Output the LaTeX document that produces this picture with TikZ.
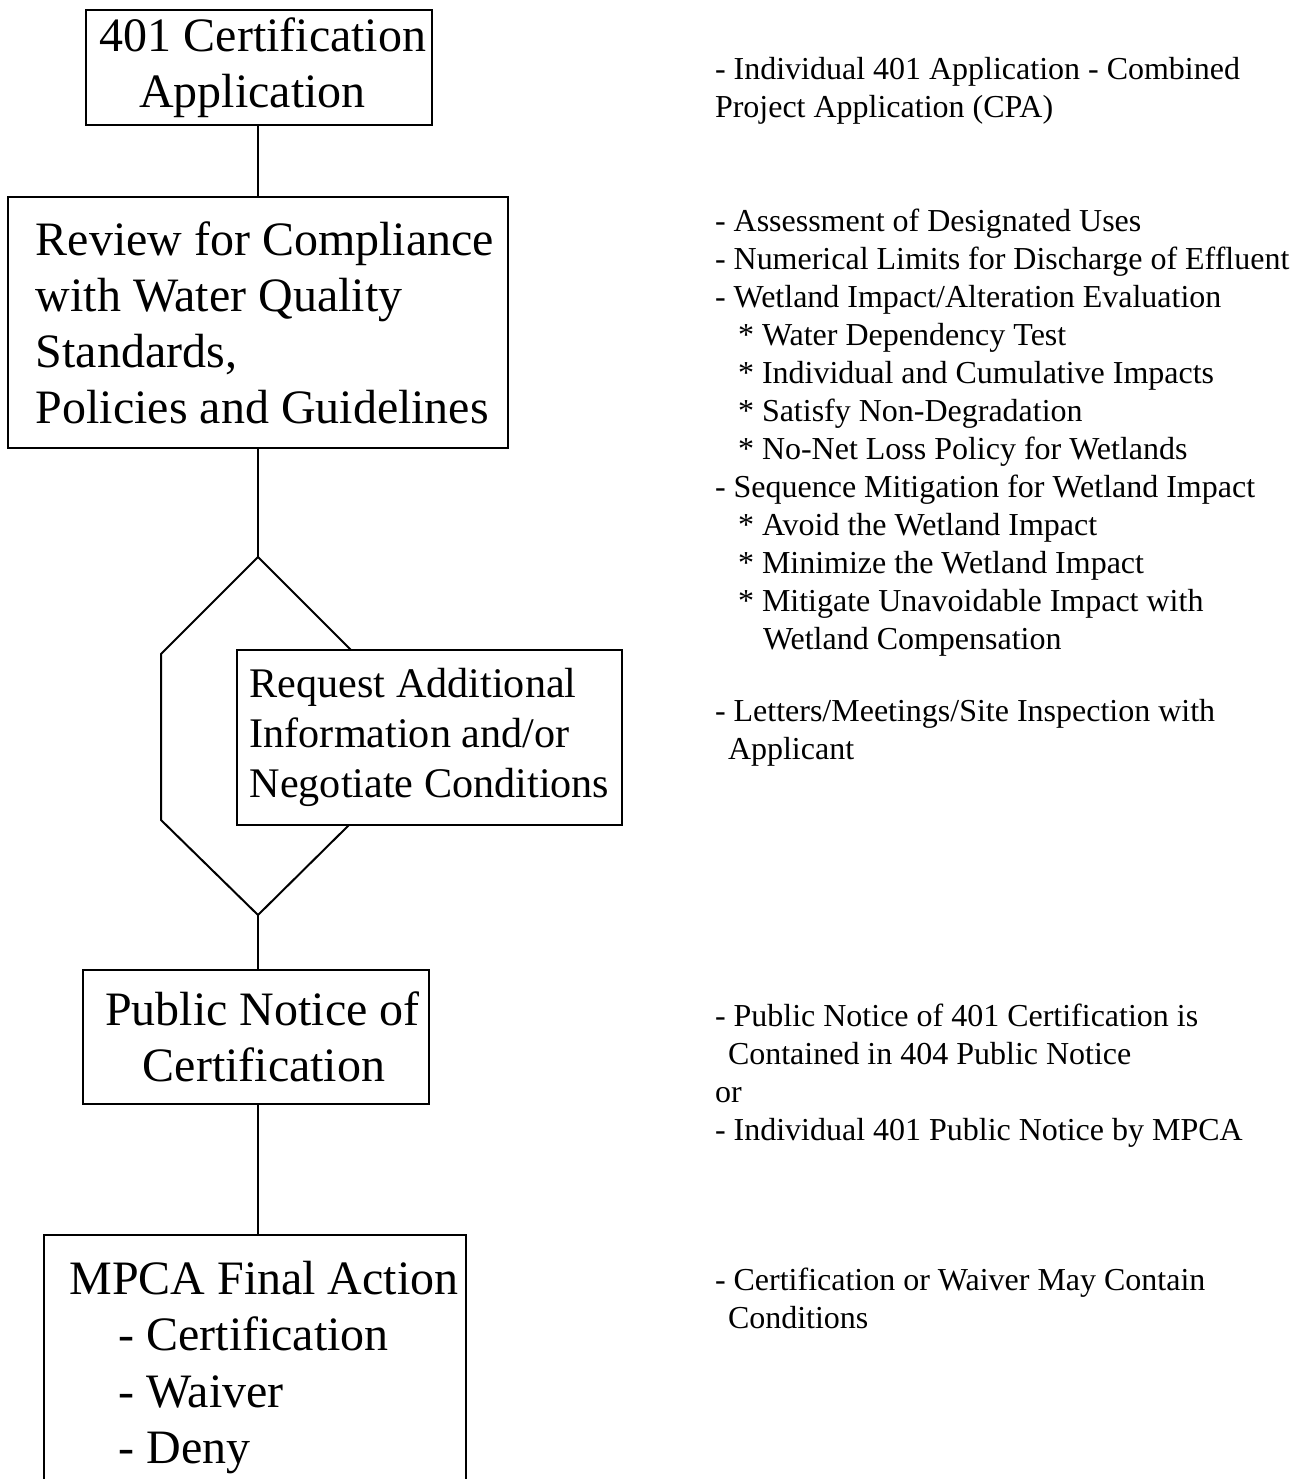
\documentclass[tikz,border=0pt]{standalone}
\usepackage{fontspec}
\setmainfont{Liberation Serif}

\begin{document}
\begin{tikzpicture}[x=0.2mm,y=-0.2mm,line width=0.4mm,
    box/.style={draw,inner sep=0pt,font=\fontsize{27.3}{31.9}\selectfont,align=center},
    midbox/.style={box,font=\fontsize{24}{28.4}\selectfont,align=left},
    note/.style={anchor=north west,inner sep=0pt,font=\fontsize{18.2}{21.6}\selectfont,align=left}]
            \useasboundingbox (0,0) rectangle (1300,1479);
            \node [box,minimum width=69.2mm,minimum height=23mm] (cert) at (259,67.5) {\hspace*{1.6mm}401 Certification\\Application\hspace*{2.6mm}};
            \node [box,align=left,minimum width=100mm,minimum height=50.2mm] (review) at (258,322.5) {\hspace*{2.8mm}Review for Compliance\\\hspace*{2.8mm}with Water Quality\\\hspace*{2.8mm}Standards,\\\hspace*{2.8mm}Policies and Guidelines};
            \node [midbox,minimum width=77mm,minimum height=35mm] (request) at (429.5,737.5) {Request Additional\\Information and/or\\Negotiate Conditions};
            \node [box,minimum width=69.2mm,minimum height=26.8mm] (notice) at (256,1037) {\hspace*{2.6mm}Public Notice of\\\hspace*{3.2mm}Certification};
            \node [box,align=left,minimum width=84.4mm,minimum height=53mm] (final) at (255,1367.5) {\hspace*{3.6mm}MPCA Final Action\\\hspace*{13.4mm}- Certification\\\hspace*{13.4mm}- Waiver\\\hspace*{13.4mm}- Deny};
            \coordinate (hextop) at (258,557);
            \coordinate (hexbot) at (258,915);
            \coordinate (hexne) at (351,650);
            \coordinate (hexse) at (349,825);
            \draw (cert.south -| hextop) -- (review.north -| hextop);
            \draw (review.south -| hextop) -- (hextop);
            \draw (hexne) -- (hextop) -- (161,654) -- (161,820) -- (hexbot) -- (hexse);
            \draw (hexbot) -- (hexbot |- notice.north);
            \draw (notice.south -| hexbot) -- (final.north -| hexbot);
            \node [note] (cpa) at (714,56) {- Individual 401 Application - Combined\\Project Application (CPA)};
            \node [note] (uses) at (714,208) {- Assessment of Designated Uses\\- Numerical Limits for Discharge of Effluent\\- Wetland Impact/Alteration Evaluation\\\hspace*{4.6mm}* Water Dependency Test\\\hspace*{4.6mm}* Individual and Cumulative Impacts\\\hspace*{4.6mm}* Satisfy Non-Degradation\\\hspace*{4.6mm}* No-Net Loss Policy for Wetlands\\- Sequence Mitigation for Wetland Impact\\\hspace*{4.6mm}* Avoid the Wetland Impact\\\hspace*{4.6mm}* Minimize the Wetland Impact\\\hspace*{4.6mm}* Mitigate Unavoidable Impact with\\\hspace*{9.6mm}Wetland Compensation};
            \node [note] (letters) at (714,698) {- Letters/Meetings/Site Inspection with\\\hspace*{2.6mm}Applicant};
            \node [note] (pubnote) at (714,1003) {- Public Notice of 401 Certification is\\\hspace*{2.6mm}Contained in 404 Public Notice\\or\\- Individual 401 Public Notice by MPCA};
            \node [note] (waiver) at (714,1267) {- Certification or Waiver May Contain\\\hspace*{2.6mm}Conditions};
        \end{tikzpicture}
\end{document}
